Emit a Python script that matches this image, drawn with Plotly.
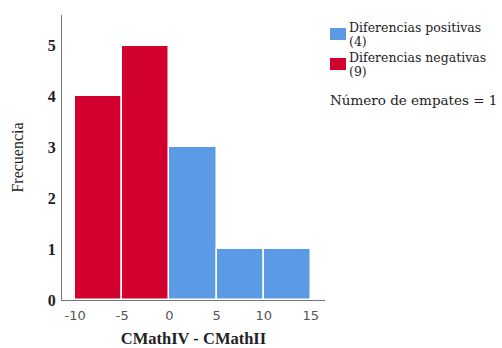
import plotly.graph_objects as go

# Histogram of paired differences (bin width 5)
bin_starts_neg = [-10, -5]
counts_neg = [4, 5]
bin_starts_pos = [0, 5, 10]
counts_pos = [3, 1, 1]
bin_width = 5

x_ticks = [-10, -5, 0, 5, 10, 15]
x_tick_labels = ["-10", "-5", "0", "5", "10", "15"]
y_ticks = [0, 1, 2, 3, 4, 5]

legend_entries = [
    ("Diferencias positivas", "(4)"),
    ("Diferencias negativas", "(9)"),
]
ties_text = "Número de empates = 1"

RED = "#D1002E"
BLUE = "#5B9BE5"
SERIF = "Liberation Serif"
LEG_FONT = dict(family="DejaVu Serif", size=12.5, color="#222")

W, H = 502, 348
ML, MR, MT, MB = 62, 177, 15, 48


def px2x(px):
    return (px - ML) / (W - ML - MR)


def px2y(py):
    return (H - MB - py) / (H - MT - MB)


fig = go.Figure()
fig.add_trace(go.Bar(
    x=[s + bin_width / 2 for s in bin_starts_pos], y=counts_pos, width=bin_width,
    marker=dict(color=BLUE, line=dict(color="white", width=1.5)),
    showlegend=False,
))
fig.add_trace(go.Bar(
    x=[s + bin_width / 2 for s in bin_starts_neg], y=counts_neg, width=bin_width,
    marker=dict(color=RED, line=dict(color="white", width=1.5)),
    showlegend=False,
))

fig.update_layout(
    width=W, height=H,
    margin=dict(l=ML, r=MR, t=MT, b=MB),
    paper_bgcolor="white", plot_bgcolor="white",
    bargap=0,
    xaxis=dict(
        range=[-11.4, 16.5],
        automargin=False,
        tickmode="array", tickvals=x_ticks, ticktext=x_tick_labels,
        tickfont=dict(family="DejaVu Sans", size=13, color="#555"),
        ticklabelstandoff=3,
        showgrid=False, zeroline=False,
        showline=True, linecolor="#777", linewidth=1,
        ticks="", ticklen=0,
        title=dict(text="CMathIV - CMathII",
                   font=dict(family=SERIF, size=16.5, color="#222", weight="bold"),
                   standoff=10),
    ),
    yaxis=dict(
        range=[0, 5.6],
        automargin=False,
        tickmode="array", tickvals=y_ticks,
        tickfont=dict(family=SERIF, size=16, color="#222", weight="bold"),
        ticklabelstandoff=2,
        showgrid=False, zeroline=False,
        showline=True, linecolor="#777", linewidth=1,
        ticks="", ticklen=0,
        title=dict(text="Frecuencia",
                   font=dict(family=SERIF, size=16, color="#222"),
                   standoff=20),
    ),
)

# Manual legend: colour swatch + two text lines per entry
swatch_colors = [BLUE, RED]
for i, ((line1, line2), color) in enumerate(zip(legend_entries, swatch_colors)):
    top = 28 + 30 * i
    fig.add_shape(
        type="rect", xref="paper", yref="paper",
        x0=px2x(330), x1=px2x(346), y0=px2y(top), y1=px2y(top + 12),
        fillcolor=color, line=dict(width=0),
    )
    fig.add_annotation(
        text=line1, xref="paper", yref="paper",
        x=px2x(347), y=px2y(top - 1), xanchor="left", yanchor="middle",
        showarrow=False, font=LEG_FONT,
    )
    fig.add_annotation(
        text=line2, xref="paper", yref="paper",
        x=px2x(347), y=px2y(top + 14), xanchor="left", yanchor="middle",
        showarrow=False, font=LEG_FONT,
    )

fig.add_annotation(
    text=ties_text, xref="paper", yref="paper",
    x=px2x(328), y=px2y(100), xanchor="left", yanchor="middle",
    showarrow=False, font=dict(LEG_FONT, size=13.5),
)

fig.write_html("out.html")
